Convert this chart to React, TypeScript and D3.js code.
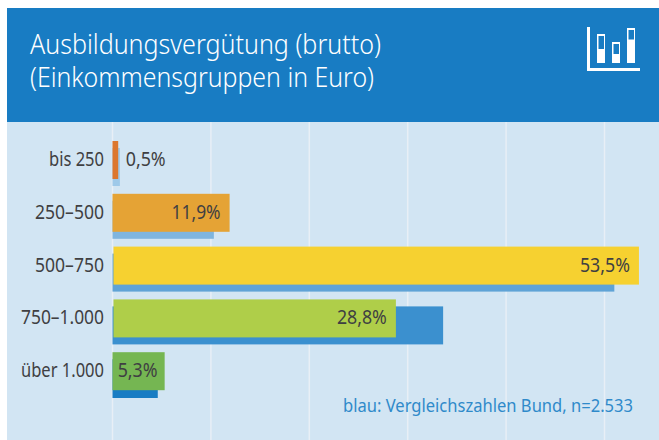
import React from "react";
import * as d3 from "d3";

const categories = ["bis 250", "250–500", "500–750", "750–1.000", "über 1.000"];
const shares = [0.5, 11.9, 53.5, 28.8, 5.3];
const shareLabels = ["0,5%", "11,9%", "53,5%", "28,8%", "5,3%"];
const shareColors = ["#dc772e", "#e5a335", "#f6d130", "#afce49", "#75b652"];
const bundValues = [0.75, 10.3, 51, 33.6, 4.6];
const bundColors = ["#9ec9e9", "#7fb5de", "#5fa3d6", "#3b90cf", "#187cc3"];
const gridTicks = [0, 10, 20, 30, 40, 50];
const titleLines = ["Ausbildungsvergütung (brutto)", "(Einkommensgruppen in Euro)"];
const noteText = "blau: Vergleichszahlen Bund, n=2.533";

const FONT = "'Noto Sans', sans-serif";
const MIN_BAR = 5.7;

const x = d3.scaleLinear().domain([0, 50]).range([112.5, 604.5]);
const y = d3.scaleBand<string>().domain(categories).range([141, 390.2]).paddingInner(14.8 / 52.8);

const labelWidths = [55, 69, 69, 83, 83];
const valueWidths = [40, 49, 50, 50, 40];

function Icon() {
  const iconBars = [
    { x0: 597, top: 34, hole: [598.5, 36, 5.5, 13] },
    { x0: 612, top: 42, hole: [613.5, 44, 5.5, 10] },
    { x0: 627, top: 28, hole: [628.5, 30, 5.5, 9.5] },
  ];
  return (
    <g>
      <rect x={587} y={27} width={3} height={44} fill="#fff" />
      <rect x={587} y={68} width={53} height={3} fill="#fff" />
      {iconBars.map((b, i) => (
        <g key={i}>
          <rect x={b.x0} y={b.top} width={8} height={63 - b.top} fill="#fff" />
          <rect x={b.hole[0]} y={b.hole[1]} width={b.hole[2]} height={b.hole[3]} fill="#187cc3" />
        </g>
      ))}
    </g>
  );
}

export default function App() {
  const h = y.bandwidth();
  return (
    <svg
      width={659}
      height={440}
      style={{ position: "absolute", left: 0, top: 0, background: "#fff" }}
      fontFamily={FONT}
    >
      <rect x={7} y={122} width={652} height={318} fill="#d2e5f3" />
      <rect x={7} y={8} width={652} height={114} fill="#187cc3" />
      {titleLines.map((t, i) => (
        <text
          key={t}
          x={30}
          y={53.5 + i * 33}
          fontSize={28}
          fontWeight={300}
          fill="#fff"
          textLength={i === 0 ? 351 : 344}
          lengthAdjust="spacingAndGlyphs"
        >
          {t}
        </text>
      ))}
      <Icon />
      {gridTicks.map((t) => (
        <line key={t} x1={x(t)} x2={x(t)} y1={122} y2={440} stroke="#e8eff6" strokeWidth={1.5} />
      ))}
      {categories.map((c, i) => {
        const top = y(c)!;
        const end = Math.max(x(shares[i]), x(0) + MIN_BAR);
        const inside = i > 0;
        return (
          <g key={c}>
            <rect
              x={x(0)}
              y={top + 7}
              width={x(bundValues[i]) - x(0)}
              height={h + (i === 4 ? 0.8 : 0)}
              fill={bundColors[i]}
            />
            <rect
              x={x(0) + (i === 2 || i === 3 ? 1 : 0)}
              y={top}
              width={end - x(0) - (i === 2 || i === 3 ? 1 : 0)}
              height={h}
              fill={shareColors[i]}
            />
            <text
              x={104}
              y={top + 25}
              textAnchor="end"
              fontSize={19}
              fill="#3f3f42"
              textLength={labelWidths[i]}
              lengthAdjust="spacingAndGlyphs"
            >
              {c}
            </text>
            <text
              x={inside ? end - (i === 4 ? 7 : 9) : end + 7.5}
              y={top + 25}
              textAnchor={inside ? "end" : "start"}
              fontSize={19}
              fill="#3f3f42"
              textLength={valueWidths[i]}
              lengthAdjust="spacingAndGlyphs"
            >
              {shareLabels[i]}
            </text>
          </g>
        );
      })}
      <text
        x={343}
        y={412}
        fontSize={18}
        fill="#2f8aca"
        textLength={290}
        lengthAdjust="spacingAndGlyphs"
      >
        {noteText}
      </text>
    </svg>
  );
}
